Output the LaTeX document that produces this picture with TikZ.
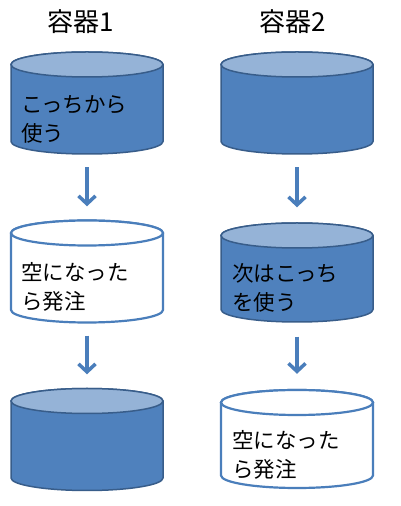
\documentclass[tikz,border=0pt]{standalone}
\usepackage{fontspec}
\setmainfont{Noto Sans CJK JP}
\usetikzlibrary{arrows.meta}
\definecolor{cdark}{HTML}{4F81BD}
\definecolor{clight}{HTML}{95B3D7}
\definecolor{cborder}{HTML}{385D8A}
\definecolor{cblue}{HTML}{4A7EBB}
\newcommand\mycyl[4]{%
  \path[#4body] (#1-76,#2) -- (#1-76,#3)
    arc[start angle=180,end angle=360,x radius=76pt,y radius=12.5pt]
    -- (#1+76,#2)
    arc[start angle=0,end angle=180,x radius=76pt,y radius=12.5pt] -- cycle;
  \path[#4top] (#1,#2) ellipse[x radius=76pt,y radius=12.5pt];
}
\begin{document}
\begin{tikzpicture}[x=1pt,y=1pt,
  darkbody/.style={fill=cdark,draw=cborder,line width=1.5pt,line join=round},
  darktop/.style={fill=clight,draw=cborder,line width=1.5pt},
  whitebody/.style={fill=white,draw=cblue,line width=2.2pt,line join=round},
  whitetop/.style={fill=white,draw=cblue,line width=2.2pt},
  box/.style={rectangle,inner sep=0pt,minimum width=152pt,minimum height=102pt},
  lbl/.style={anchor=west,inner sep=0pt,align=left,font=\fontsize{21.5}{29}\selectfont},
  head/.style={inner sep=0pt,font=\fontsize{26}{30}\selectfont},
  flow/.style={draw=cblue,line width=3.5pt,-{Straight Barb[length=8pt,width=17pt]},shorten <=13pt,shorten >=14pt}]
\useasboundingbox (0,0) rectangle (400,506);
\fill[white] (0,0) rectangle (400,506);
% headings
\node[head] (h1) at (81,484) {容器1};
\node[head] (h2) at (292.5,484) {容器2};
% left column
\mycyl{87}{441.5}{364.5}{dark}
\mycyl{87}{273}{196}{white}
\mycyl{87}{105}{28}{dark}
% right column
\mycyl{297}{441.5}{364.5}{dark}
\mycyl{297}{270.5}{196.5}{dark}
\mycyl{297}{103.5}{30.5}{white}
% named boxes for connectors
\node[box] (L1) at (87,403) {};
\node[box] (L2) at (87,234.5) {};
\node[box] (L3) at (87,66.5) {};
\node[box] (R1) at (297,403) {};
\node[box] (R2) at (297,233.5) {};
\node[box] (R3) at (297,67) {};
% labels
\node[lbl] (tL1) at (21,387) {こっちから\\使う};
\node[lbl] (tL2) at (21,219.5) {空になった\\ら発注};
\node[lbl] (tR2) at (232,218) {次はこっち\\を使う};
\node[lbl] (tR3) at (232,51) {空になった\\ら発注};
% connectors
\draw[flow] (L1.south) -- (L2.north);
\draw[flow] (L2.south) -- (L3.north);
\draw[flow] (R1.south) -- (R2.north);
\draw[flow] (R2.south) -- (R3.north);
\end{tikzpicture}
\end{document}
